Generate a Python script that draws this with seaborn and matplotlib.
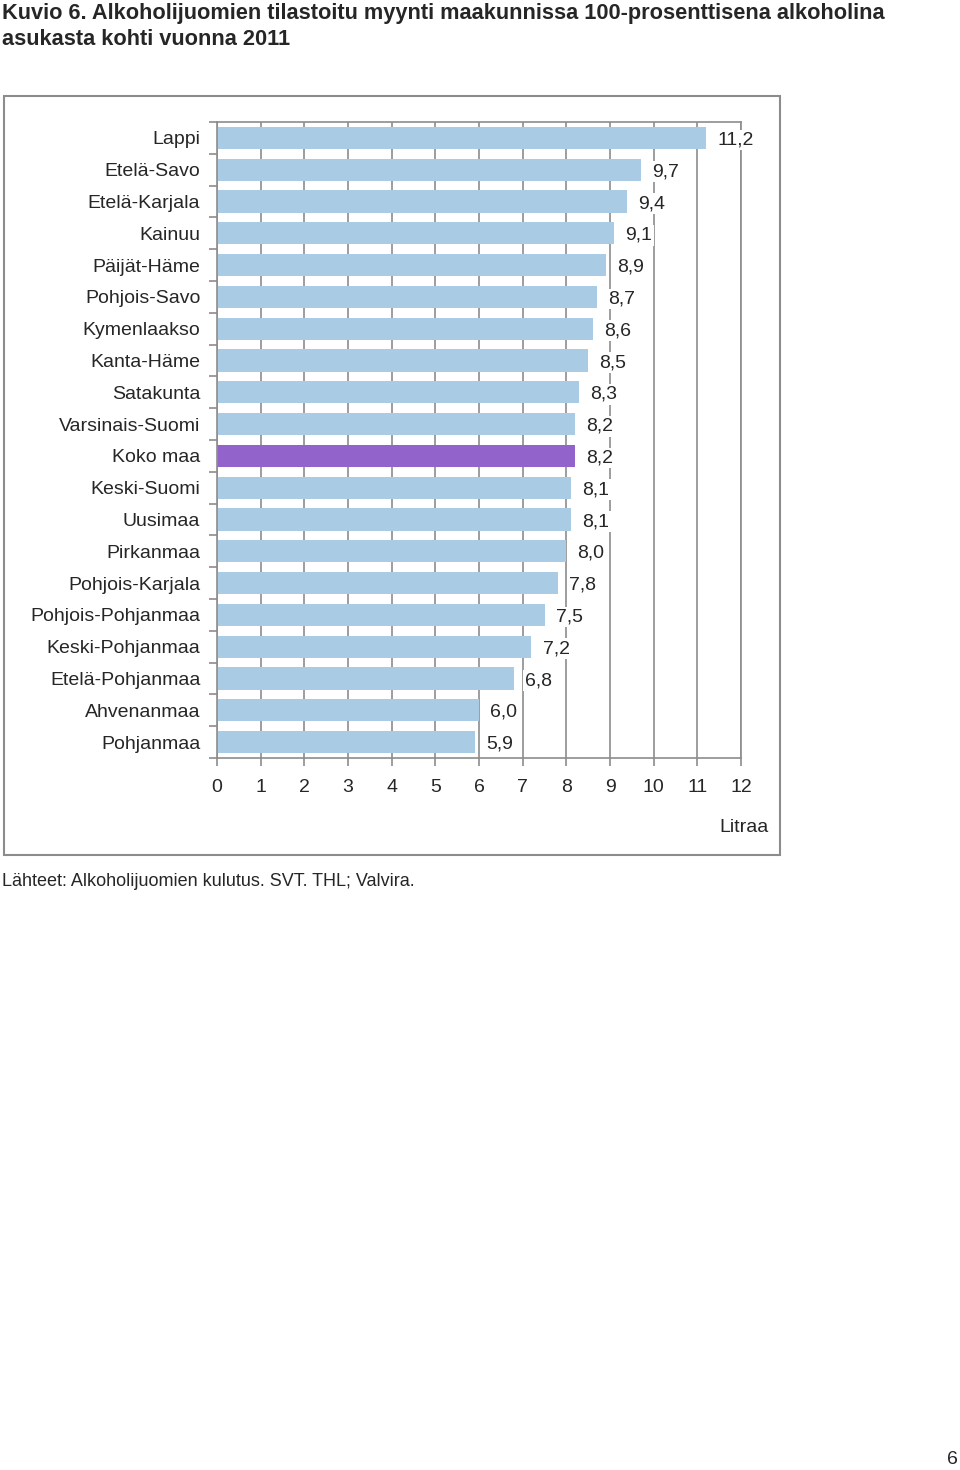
import matplotlib
matplotlib.use("Agg")
import matplotlib.pyplot as plt
import seaborn as sns
import pandas as pd
from matplotlib.patches import Rectangle

# Data
regions = ["Lappi", "Etelä-Savo", "Etelä-Karjala", "Kainuu", "Päijät-Häme",
           "Pohjois-Savo", "Kymenlaakso", "Kanta-Häme", "Satakunta",
           "Varsinais-Suomi", "Koko maa", "Keski-Suomi", "Uusimaa", "Pirkanmaa",
           "Pohjois-Karjala", "Pohjois-Pohjanmaa", "Keski-Pohjanmaa",
           "Etelä-Pohjanmaa", "Ahvenanmaa", "Pohjanmaa"]
litres = [11.2, 9.7, 9.4, 9.1, 8.9, 8.7, 8.6, 8.5, 8.3, 8.2, 8.2, 8.1, 8.1, 8.0,
          7.8, 7.5, 7.2, 6.8, 6.0, 5.9]
x_ticks = list(range(0, 13))

title = ("Kuvio 6. Alkoholijuomien tilastoitu myynti maakunnissa 100-prosenttisena alkoholina\n"
         "asukasta kohti vuonna 2011")
source = "Lähteet: Alkoholijuomien kulutus. SVT. THL; Valvira."

bar_blue = "#a9cce4"
bar_purple = "#9263cb"
grey = "#8c8c8c"

df = pd.DataFrame({"alue": regions, "litraa": litres})
colors = {r: (bar_purple if r == "Koko maa" else bar_blue) for r in regions}

sns.set_style("white")
plt.rcParams["font.family"] = ["Liberation Sans", "DejaVu Sans"]

fig = plt.figure(figsize=(9.6, 14.7), dpi=100)
ax = fig.add_axes([217 / 960, 1 - 758 / 1470, 524 / 960, 636 / 1470])

# gridlines behind the bars
ax.set_axisbelow(True)
ax.grid(axis="x", color=grey, linewidth=1.2)
ax.grid(axis="y", visible=False)

sns.barplot(data=df, x="litraa", y="alue", hue="alue", palette=colors,
            legend=False, orient="h", width=0.7, saturation=1, ax=ax,
            edgecolor="none")

ax.set_xlim(0, 12)
ax.set_ylim(len(regions) - 0.5, -0.5)
ax.set_xticks(x_ticks)
ax.set_xticklabels([str(t) for t in x_ticks], fontsize=14)
ax.set_yticks(range(len(regions)))
ax.set_yticklabels(regions, fontsize=14)
ax.tick_params(axis="y", length=0, pad=12)
ax.tick_params(axis="x", direction="out", length=6, width=1.2, color=grey,
               pad=9, bottom=True)
ax.set_yticks([i - 0.5 for i in range(len(regions) + 1)], minor=True)
ax.tick_params(axis="y", which="minor", direction="out", length=6, width=1.2,
               color=grey, left=True)
ax.set_xlabel("")
ax.set_ylabel("")

for s in ["left", "bottom", "top", "right"]:
    ax.spines[s].set_visible(True)
    ax.spines[s].set_color(grey)
    ax.spines[s].set_linewidth(1.2)

# value labels with white background
for i, v in enumerate(litres):
    ax.annotate(f"{v:.1f}".replace(".", ","), xy=(v, i), xytext=(8, -1.5),
                textcoords="offset points", ha="left", va="center", fontsize=14,
                bbox=dict(boxstyle="square,pad=0.1", facecolor="white",
                          edgecolor="none"))

ax.text((769 - 217) / 524, (758 - 827) / 636, "Litraa", transform=ax.transAxes,
        ha="right", va="center", fontsize=14)

# frame around the chart
fig.patches.append(Rectangle((4 / 960, 1 - 855 / 1470), 776 / 960, 759 / 1470,
                             transform=fig.transFigure, fill=False,
                             edgecolor=grey, linewidth=1.5))

fig.text(2 / 960, 1 - 3 / 1470, title, ha="left", va="top", fontsize=15.7,
         fontweight="bold", linespacing=1.3)
fig.text(2 / 960, 1 - 882 / 1470, source, ha="left", va="center", fontsize=13)
fig.text(958 / 960, 1 - 1460 / 1470, "6", ha="right", va="center", fontsize=14)

fig.savefig("out.png", dpi=100)
